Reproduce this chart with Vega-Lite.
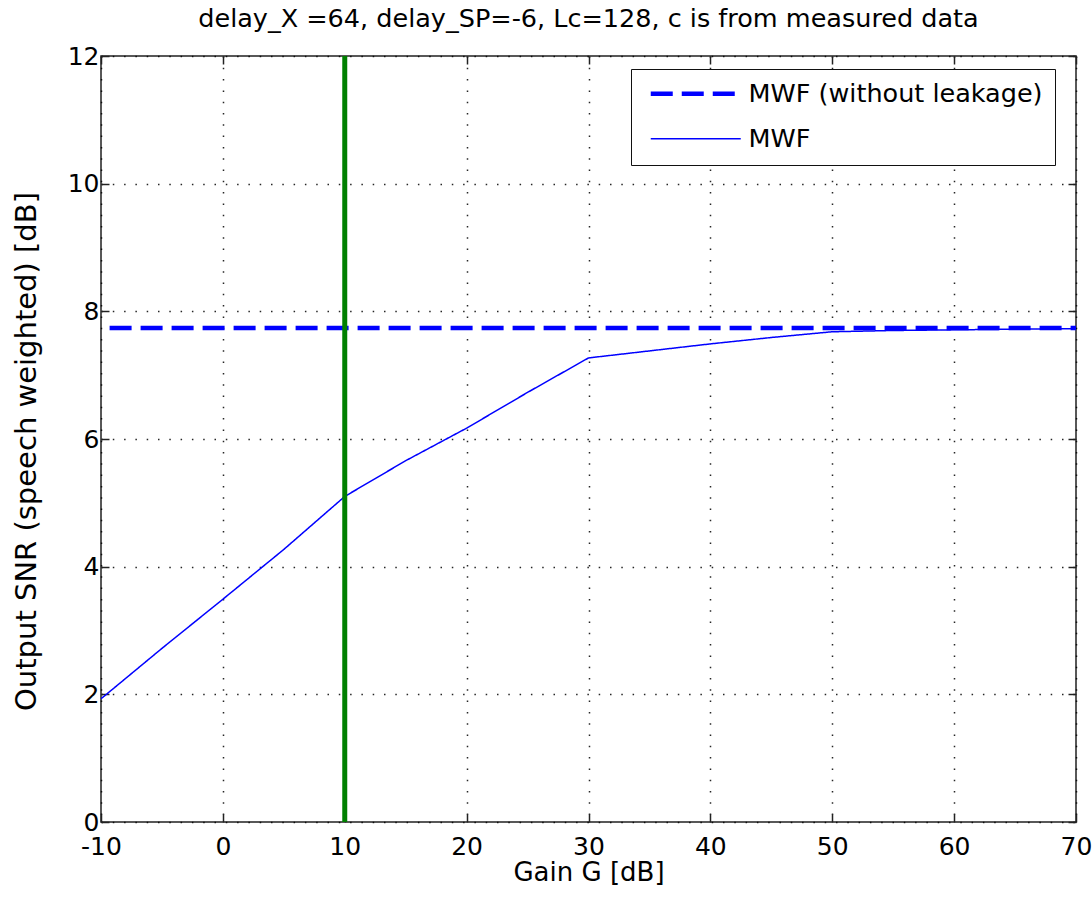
{
  "$schema": "https://vega.github.io/schema/vega-lite/v6.json",
  "width": 975,
  "height": 766,
  "autosize": {"type": "none"},
  "padding": {"left": 101, "top": 56, "right": 16, "bottom": 82},
  "background": "white",
  "title": {
    "text": "delay_X =64, delay_SP=-6, Lc=128, c is from measured data",
    "font": "DejaVu Sans",
    "fontSize": 25.5,
    "fontWeight": "normal",
    "color": "black",
    "anchor": "middle",
    "frame": "group",
    "baseline": "alphabetic",
    "offset": 26,
    "dy": 34
  },
  "config": {
    "view": {"stroke": "#222222", "strokeWidth": 1.5},
    "axis": {
      "labelFont": "DejaVu Sans",
      "labelFontSize": 25,
      "labelColor": "black",
      "titleFont": "DejaVu Sans",
      "titleFontSize": 27,
      "titleFontWeight": "normal",
      "titleColor": "black",
      "domain": false,
      "tickColor": "#222222",
      "tickWidth": 1.5,
      "tickSize": -8,
      "gridColor": "#000000",
      "gridOpacity": 0.85,
      "gridWidth": 1.5,
      "gridDash": [1.5, 9.8],
      "labelExpr": "'' + datum.value"
    }
  },
  "datasets": {
    "curves": [
      {"series": "MWF (without leakage)", "gain": -10, "snr": 7.74},
      {"series": "MWF (without leakage)", "gain": 70, "snr": 7.74},
      {"series": "MWF", "gain": -10, "snr": 1.93},
      {"series": "MWF", "gain": -5, "snr": 2.72},
      {"series": "MWF", "gain": 0, "snr": 3.49},
      {"series": "MWF", "gain": 5, "snr": 4.27},
      {"series": "MWF", "gain": 10, "snr": 5.1},
      {"series": "MWF", "gain": 15, "snr": 5.66},
      {"series": "MWF", "gain": 20, "snr": 6.17},
      {"series": "MWF", "gain": 25, "snr": 6.73},
      {"series": "MWF", "gain": 30, "snr": 7.27},
      {"series": "MWF", "gain": 35, "snr": 7.38},
      {"series": "MWF", "gain": 40, "snr": 7.49},
      {"series": "MWF", "gain": 45, "snr": 7.59},
      {"series": "MWF", "gain": 50, "snr": 7.68},
      {"series": "MWF", "gain": 55, "snr": 7.7},
      {"series": "MWF", "gain": 60, "snr": 7.71},
      {"series": "MWF", "gain": 65, "snr": 7.72},
      {"series": "MWF", "gain": 70, "snr": 7.73}
    ],
    "marker": [
      {"gain": 10, "lo": 0, "hi": 12}
    ]
  },
  "layer": [
    {
      "data": {"name": "curves"},
      "mark": {"type": "line", "clip": true, "strokeDashOffset": 22.4},
      "encoding": {
        "x": {
          "field": "gain", "type": "quantitative",
          "scale": {"domain": [-10, 70], "nice": false, "zero": false},
          "axis": {
            "title": "Gain G [dB]",
            "titleFontSize": 26,
            "values": [-10, 0, 10, 20, 30, 40, 50, 60, 70],
            "labelPadding": 20,
            "titlePadding": 0,
            "labelFlush": false,
            "grid": true
          }
        },
        "y": {
          "field": "snr", "type": "quantitative",
          "scale": {"domain": [0, 12], "nice": false, "zero": false},
          "axis": {
            "title": "Output SNR (speech weighted) [dB]",
            "titleFontSize": 29,
            "titleY": 395,
            "values": [0, 2, 4, 6, 8, 10, 12],
            "labelPadding": 10,
            "titlePadding": 26,
            "labelFlush": false,
            "grid": true
          }
        },
        "color": {
          "field": "series", "type": "nominal",
          "scale": {"domain": ["MWF (without leakage)", "MWF"], "range": ["#0000ff", "#0000ff"]},
          "legend": {
            "title": null,
            "orient": "none",
            "legendX": 530,
            "legendY": 13,
            "direction": "vertical",
            "fillColor": "white",
            "strokeColor": "#111111",
            "padding": 12,
            "cornerRadius": 0,
            "labelFont": "DejaVu Sans",
            "labelFontSize": 25.5,
            "labelColor": "black",
            "labelLimit": 500,
            "symbolType": "M-0.5,0H8.5",
            "symbolSize": 400,
            "labelOffset": 80,
            "rowPadding": 18,
            "symbolFillColor": "transparent"
          }
        },
        "strokeDash": {
          "field": "series", "type": "nominal",
          "scale": {"domain": ["MWF (without leakage)", "MWF"], "range": [[22, 9], [1, 0]]},
          "legend": null
        },
        "strokeWidth": {
          "field": "series", "type": "nominal",
          "scale": {"domain": ["MWF (without leakage)", "MWF"], "range": [4.5, 1.5]},
          "legend": null
        },
        "order": {"field": "gain", "type": "quantitative"}
      }
    },
    {
      "data": {"name": "marker"},
      "mark": {"type": "rule", "color": "#008000", "strokeWidth": 5},
      "encoding": {
        "x": {
          "field": "gain", "type": "quantitative",
          "scale": {"domain": [-10, 70], "nice": false, "zero": false},
          "axis": {
            "orient": "top",
            "title": null,
            "labels": false,
            "grid": false,
            "values": [-10, 0, 10, 20, 30, 40, 50, 60, 70]
          }
        },
        "y": {
          "field": "lo", "type": "quantitative",
          "scale": {"domain": [0, 12], "nice": false, "zero": false},
          "axis": {
            "orient": "right",
            "title": null,
            "labels": false,
            "grid": false,
            "values": [0, 2, 4, 6, 8, 10, 12]
          }
        },
        "y2": {"field": "hi"}
      }
    }
  ],
  "resolve": {"axis": {"x": "independent", "y": "independent"}}
}
